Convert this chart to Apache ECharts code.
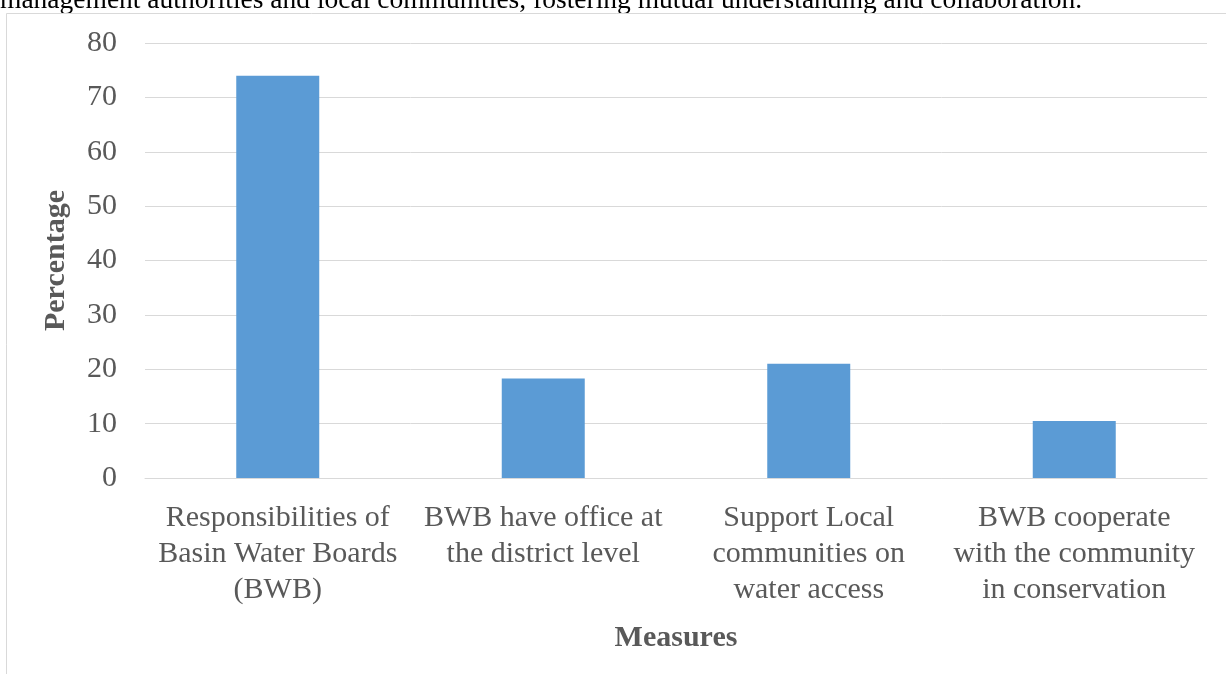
<!DOCTYPE html>
<html>
<head>
<meta charset="utf-8">
<script src="https://cdn.jsdelivr.net/npm/echarts@6/dist/echarts.min.js"></script>
<style>
html,body{margin:0;padding:0;background:#fff;}
#chart{width:1226px;height:674px;}
</style>
</head>
<body>
<div id="chart"></div>
<script>
const categories = [
  "Responsibilities of\nBasin Water Boards\n(BWB)",
  "BWB have office at\nthe district level",
  "Support Local\ncommunities on\nwater access",
  "BWB cooperate\nwith the community\nin conservation"
];
const values = [74, 18.3, 21, 10.5];
const yTicks = { min: 0, max: 80, interval: 10 };
const xAxisTitle = "Measures";
const yAxisTitle = "Percentage";
const headerText = "management authorities and local communities, fostering mutual understanding and collaboration.";

const FONT = "'Liberation Serif', 'Times New Roman', serif";
const chart = echarts.init(document.getElementById('chart'), null, { renderer: 'canvas' });
chart.setOption({
  backgroundColor: '#ffffff',
  animation: false,
  graphic: [
    {
      type: 'text', left: 0, top: -13, silent: true,
      style: { text: headerText, font: '27.5px ' + FONT, fill: '#000000' }
    },
    {
      type: 'rect', shape: { x: 6.5, y: 13.5, width: 1240, height: 700 },
      style: { fill: 'none', stroke: '#d9d9d9', lineWidth: 1 }, silent: true
    }
  ],
  grid: { left: 145, right: 19, top: 43, bottom: 196, containLabel: false },
  xAxis: {
    type: 'category',
    data: categories,
    name: xAxisTitle,
    nameLocation: 'middle',
    nameGap: 145,
    nameTextStyle: { fontFamily: FONT, fontSize: 30, fontWeight: 'bold', color: '#595959' },
    axisLine: { show: true, lineStyle: { color: '#d9d9d9', width: 1 } },
    axisTick: { show: false },
    axisLabel: { interval: 0, fontFamily: FONT, fontSize: 30, color: '#595959', lineHeight: 36, margin: 22 }
  },
  yAxis: {
    type: 'value',
    min: yTicks.min, max: yTicks.max, interval: yTicks.interval,
    name: yAxisTitle,
    nameLocation: 'middle',
    nameGap: 74,
    nameRotate: 90,
    nameTextStyle: { fontFamily: FONT, fontSize: 30, fontWeight: 'bold', color: '#595959' },
    axisLine: { show: false },
    axisTick: { show: false },
    axisLabel: { fontFamily: FONT, fontSize: 30, color: '#595959', margin: 28 },
    splitLine: { show: true, lineStyle: { color: '#d9d9d9', width: 1 } }
  },
  series: [{
    type: 'bar',
    data: values,
    barWidth: 83,
    itemStyle: { color: '#5b9bd5' }
  }]
});
</script>
</body>
</html>
